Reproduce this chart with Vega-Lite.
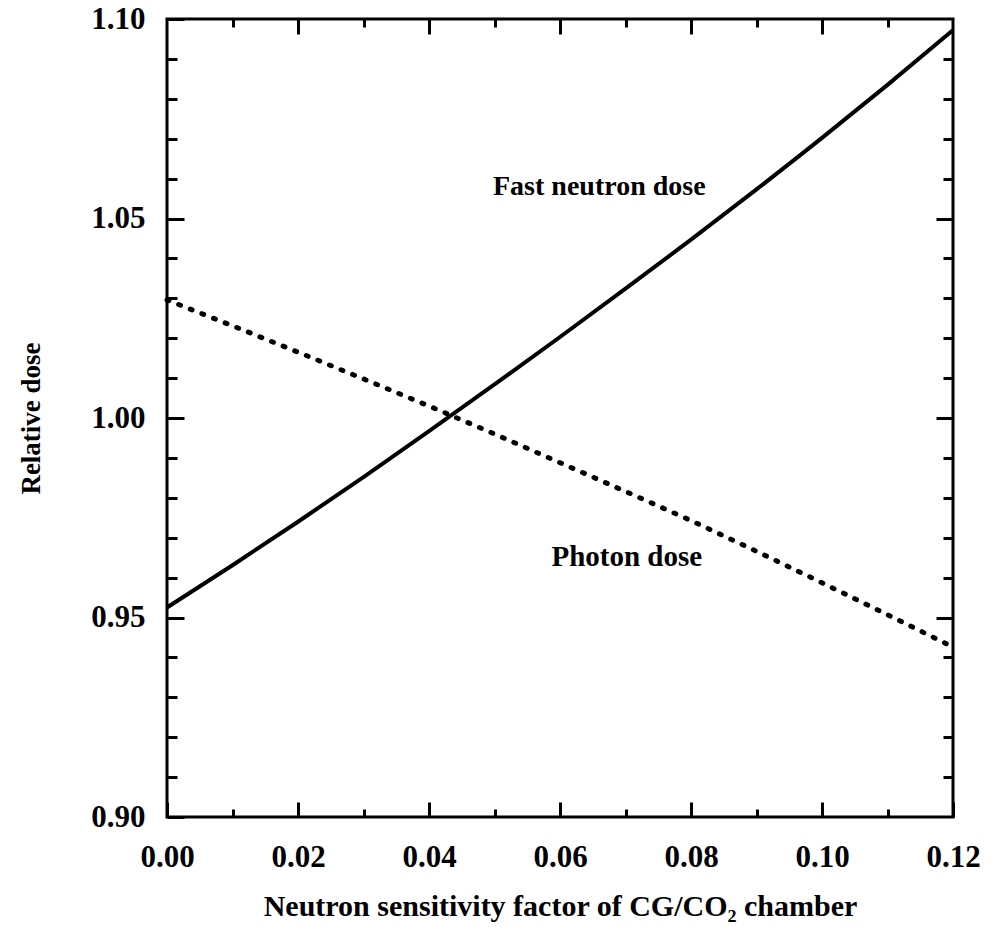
{
  "$schema": "https://vega.github.io/schema/vega-lite/v6.json",
  "autosize": "none",
  "padding": {"left": 167, "top": 19, "right": 44, "bottom": 127},
  "width": 786,
  "height": 798,
  "background": "white",
  "config": {
    "view": {"stroke": "black", "strokeWidth": 3},
    "axis": {
      "domain": false,
      "grid": false,
      "tickColor": "black",
      "tickWidth": 3,
      "labelFont": "Liberation Serif",
      "labelFontSize": 31,
      "labelFontWeight": "bold",
      "labelColor": "black",
      "labelFlush": false,
      "titleFont": "Liberation Serif",
      "titleFontWeight": "bold",
      "titleColor": "black"
    }
  },
  "datasets": {
    "curves": [
      {"x": 0.00, "dose": 0.9525, "series": "Fast neutron dose"},
      {"x": 0.01, "dose": 0.9631, "series": "Fast neutron dose"},
      {"x": 0.02, "dose": 0.9740, "series": "Fast neutron dose"},
      {"x": 0.03, "dose": 0.9852, "series": "Fast neutron dose"},
      {"x": 0.04, "dose": 0.9967, "series": "Fast neutron dose"},
      {"x": 0.05, "dose": 1.0084, "series": "Fast neutron dose"},
      {"x": 0.06, "dose": 1.0203, "series": "Fast neutron dose"},
      {"x": 0.07, "dose": 1.0324, "series": "Fast neutron dose"},
      {"x": 0.08, "dose": 1.0447, "series": "Fast neutron dose"},
      {"x": 0.09, "dose": 1.0573, "series": "Fast neutron dose"},
      {"x": 0.10, "dose": 1.0702, "series": "Fast neutron dose"},
      {"x": 0.11, "dose": 1.0835, "series": "Fast neutron dose"},
      {"x": 0.12, "dose": 1.0972, "series": "Fast neutron dose"},
      {"x": 0.00, "dose": 1.0296, "series": "Photon dose"},
      {"x": 0.01, "dose": 1.0231, "series": "Photon dose"},
      {"x": 0.02, "dose": 1.0165, "series": "Photon dose"},
      {"x": 0.03, "dose": 1.0098, "series": "Photon dose"},
      {"x": 0.04, "dose": 1.0030, "series": "Photon dose"},
      {"x": 0.05, "dose": 0.9960, "series": "Photon dose"},
      {"x": 0.06, "dose": 0.9888, "series": "Photon dose"},
      {"x": 0.07, "dose": 0.9816, "series": "Photon dose"},
      {"x": 0.08, "dose": 0.9743, "series": "Photon dose"},
      {"x": 0.09, "dose": 0.9666, "series": "Photon dose"},
      {"x": 0.10, "dose": 0.9587, "series": "Photon dose"},
      {"x": 0.11, "dose": 0.9507, "series": "Photon dose"},
      {"x": 0.12, "dose": 0.9426, "series": "Photon dose"}
    ],
    "labels": [
      {"x": 0.066, "dose": 1.058, "label": "Fast neutron dose"},
      {"x": 0.0702, "dose": 0.9652, "label": "Photon dose"}
    ]
  },
  "layer": [
    {
      "data": {"name": "curves"},
      "transform": [{"filter": "datum.series === 'Fast neutron dose'"}],
      "mark": {"type": "line", "color": "black", "strokeWidth": 4, "interpolate": "monotone"},
      "encoding": {
        "x": {"field": "x", "type": "quantitative",
          "scale": {"domain": [0, 0.12], "nice": false, "zero": false},
          "axis": {"orient": "bottom", "values": [0, 0.02, 0.04, 0.06, 0.08, 0.1, 0.12], "format": ".2f", "tickSize": -15, "labelPadding": 40,
            "title": "Neutron sensitivity factor of CG/CO₂ chamber", "titleFontSize": 30, "titlePadding": 19}},
        "y": {"field": "dose", "type": "quantitative",
          "scale": {"domain": [0.9, 1.1], "nice": false, "zero": false},
          "axis": {"orient": "left", "values": [0.9, 0.95, 1.0, 1.05, 1.1], "format": ".2f", "tickSize": -17, "labelPadding": 39,
            "title": "Relative dose", "titleFontSize": 27, "titlePadding": 45}}
      }
    },
    {
      "data": {"name": "curves"},
      "transform": [{"filter": "datum.series === 'Photon dose'"}],
      "mark": {"type": "line", "color": "black", "strokeWidth": 5, "strokeDash": [2, 10.5], "strokeCap": "round"},
      "encoding": {
        "x": {"field": "x", "type": "quantitative",
          "axis": {"orient": "bottom", "values": [0.01, 0.03, 0.05, 0.07, 0.09, 0.11], "tickSize": -8, "labels": false, "title": null}},
        "y": {"field": "dose", "type": "quantitative",
          "axis": {"orient": "left", "values": [0.91, 0.92, 0.93, 0.94, 0.96, 0.97, 0.98, 0.99, 1.01, 1.02, 1.03, 1.04, 1.06, 1.07, 1.08, 1.09], "tickSize": -10, "labels": false, "title": null}}
      }
    },
    {
      "data": {"name": "labels"},
      "transform": [{"filter": "datum.label === 'Fast neutron dose'"}],
      "mark": {"type": "text", "font": "Liberation Serif", "fontSize": 28, "fontWeight": "bold", "color": "black"},
      "encoding": {
        "x": {"field": "x", "type": "quantitative",
          "axis": {"orient": "top", "values": [0.02, 0.04, 0.06, 0.08, 0.1], "tickSize": -15, "labels": false, "title": null}},
        "y": {"field": "dose", "type": "quantitative",
          "axis": {"orient": "right", "values": [0.95, 1.0, 1.05], "tickSize": -17, "labels": false, "title": null}},
        "text": {"field": "label"}
      }
    },
    {
      "data": {"name": "labels"},
      "transform": [{"filter": "datum.label === 'Photon dose'"}],
      "mark": {"type": "text", "font": "Liberation Serif", "fontSize": 29, "fontWeight": "bold", "color": "black"},
      "encoding": {
        "x": {"field": "x", "type": "quantitative",
          "axis": {"orient": "top", "values": [0.01, 0.03, 0.05, 0.07, 0.09, 0.11], "tickSize": -8, "labels": false, "title": null}},
        "y": {"field": "dose", "type": "quantitative",
          "axis": {"orient": "right", "values": [0.91, 0.92, 0.93, 0.94, 0.96, 0.97, 0.98, 0.99, 1.01, 1.02, 1.03, 1.04, 1.06, 1.07, 1.08, 1.09], "tickSize": -10, "labels": false, "title": null}},
        "text": {"field": "label"}
      }
    }
  ],
  "resolve": {"axis": {"x": "independent", "y": "independent"}}
}
